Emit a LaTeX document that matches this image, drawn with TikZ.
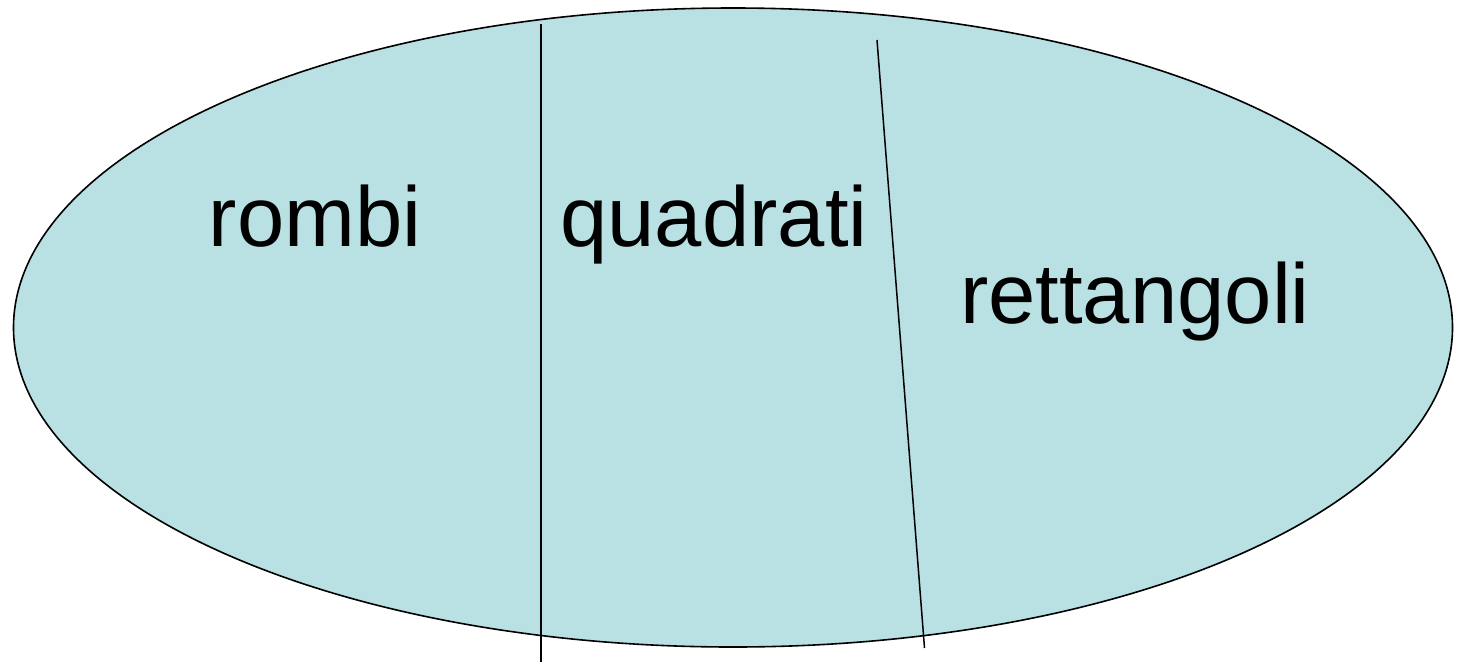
\documentclass[tikz,border=0pt]{standalone}
\usepackage{fontspec}
\setmainfont{Liberation Sans}
\definecolor{setfill}{RGB}{185,224,227}
\begin{document}
\begin{tikzpicture}[x=1pt,y=-1pt,
  lbl/.style={inner sep=0pt,anchor=base,font=\fontsize{85}{98}\selectfont},
  divider/.style={draw=black,line width=1.5pt}]
\useasboundingbox (0,0) rectangle (1457,662);
\draw[fill=setfill,line width=1.6pt] (733,327.5) ellipse [x radius=719.5,y radius=319.5];
\coordinate (d1top) at (541,24);
\coordinate (d1bot) at (541,662);
\coordinate (d2top) at (877,40);
\coordinate (d2bot) at (924.5,648);
\draw[divider] (d1top) -- (d1bot);
\draw[divider] (d2top) -- (d2bot);
\node[lbl] (rombi) at (315,246) {rombi};
\node[lbl] (quadrati) at (714,246) {quadrati};
\node[lbl] (rettangoli) at (1135,323) {rettangoli};
\end{tikzpicture}
\end{document}
